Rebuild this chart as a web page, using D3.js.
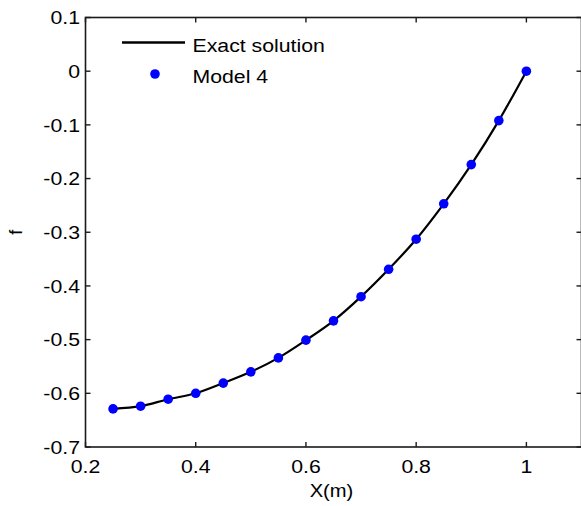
<!DOCTYPE html>
<html>
<head>
<meta charset="utf-8">
<script src="https://cdn.jsdelivr.net/npm/d3@7"></script>
<style>
  html, body { margin: 0; padding: 0; background: #fff; }
  svg { display: block; }
  text { font-family: "Liberation Sans", Arial, sans-serif; fill: #000; }
</style>
</head>
<body>
<svg id="chart" width="581" height="506"></svg>
<script>
// Streamwise position X (m) and the function f
const xValues = [0.25, 0.30, 0.35, 0.40, 0.45, 0.50, 0.55, 0.60, 0.65, 0.70, 0.75, 0.80, 0.85, 0.90, 0.95, 1.00];
const exactF  = [-0.629, -0.624, -0.611, -0.600, -0.581, -0.560, -0.534, -0.501, -0.465, -0.420, -0.369, -0.313, -0.247, -0.174, -0.092, 0.000];
const model4F = [-0.629, -0.624, -0.611, -0.600, -0.581, -0.560, -0.534, -0.501, -0.465, -0.420, -0.369, -0.313, -0.247, -0.174, -0.092, 0.000];

const xTicks = [0.2, 0.4, 0.6, 0.8, 1.0];
const xTickLabels = ["0.2", "0.4", "0.6", "0.8", "1"];
const yTicks = [0.1, 0, -0.1, -0.2, -0.3, -0.4, -0.5, -0.6, -0.7];
const yTickLabels = ["0.1", "0", "-0.1", "-0.2", "-0.3", "-0.4", "-0.5", "-0.6", "-0.7"];

const seriesNames = ["Exact solution", "Model 4"];

(function draw() {
  const svg = d3.select("#chart");
  const mLeft = 85.5, mRight = 581.5, mTop = 17.5, mBottom = 447;
  const fontSize = 19, stretch = 1.12;

  const x = d3.scaleLinear().domain([0.2, 1.1]).range([mLeft, mRight]);
  const y = d3.scaleLinear().domain([-0.7, 0.1]).range([mBottom, mTop]);

  const axisColor = "#1a1a1a";

  // box
  svg.append("rect")
    .attr("x", mLeft).attr("y", mTop)
    .attr("width", mRight - mLeft).attr("height", mBottom - mTop)
    .attr("fill", "none").attr("stroke", axisColor).attr("stroke-width", 1.6);

  // inward ticks on all four sides
  const tickLen = 5;
  const ticks = svg.append("g").attr("stroke", axisColor).attr("stroke-width", 1.4);
  xTicks.forEach(t => {
    ticks.append("line").attr("x1", x(t)).attr("x2", x(t)).attr("y1", mBottom).attr("y2", mBottom - tickLen);
    ticks.append("line").attr("x1", x(t)).attr("x2", x(t)).attr("y1", mTop).attr("y2", mTop + tickLen);
  });
  yTicks.forEach(t => {
    ticks.append("line").attr("x1", mLeft).attr("x2", mLeft + tickLen).attr("y1", y(t)).attr("y2", y(t));
    ticks.append("line").attr("x1", mRight).attr("x2", mRight - tickLen).attr("y1", y(t)).attr("y2", y(t));
  });

  function label(px, py, txt, anchor, size) {
    return svg.append("text")
      .attr("transform", `translate(${px},${py}) scale(${stretch},1)`)
      .attr("text-anchor", anchor)
      .attr("font-size", size || fontSize)
      .text(txt);
  }

  // tick labels
  xTicks.forEach((t, i) => label(x(t), mBottom + 26, xTickLabels[i], "middle"));
  yTicks.forEach((t, i) => label(mLeft - 5.5, y(t) + 6.8, yTickLabels[i], "end"));

  // axis titles
  label((mLeft + mRight) / 2 - 2, 497, "X(m)", "middle", 18);
  svg.append("text")
    .attr("transform", `translate(22,${(mTop + mBottom) / 2}) rotate(-90)`)
    .attr("text-anchor", "middle")
    .attr("font-size", 18)
    .text("f");

  // exact solution curve
  const pts = xValues.map((v, i) => [v, exactF[i]]);
  svg.append("path")
    .datum(pts)
    .attr("fill", "none")
    .attr("stroke", "#000")
    .attr("stroke-width", 2.2)
    .attr("d", d3.line().x(d => x(d[0])).y(d => y(d[1])).curve(d3.curveCatmullRom));

  // model 4 markers
  svg.append("g").selectAll("circle")
    .data(xValues.map((v, i) => [v, model4F[i]]))
    .join("circle")
    .attr("cx", d => x(d[0]))
    .attr("cy", d => y(d[1]))
    .attr("r", 4.8)
    .attr("fill", "#0000ff");

  // legend
  const lg = svg.append("g");
  lg.append("line").attr("x1", 122).attr("x2", 185).attr("y1", 42.5).attr("y2", 42.5)
    .attr("stroke", "#000").attr("stroke-width", 2.4);
  lg.append("circle").attr("cx", 155).attr("cy", 74).attr("r", 4.8).attr("fill", "#0000ff");
  label(192.5, 52, seriesNames[0], "start");
  label(192.5, 83, seriesNames[1], "start");
})();
</script>
</body>
</html>
